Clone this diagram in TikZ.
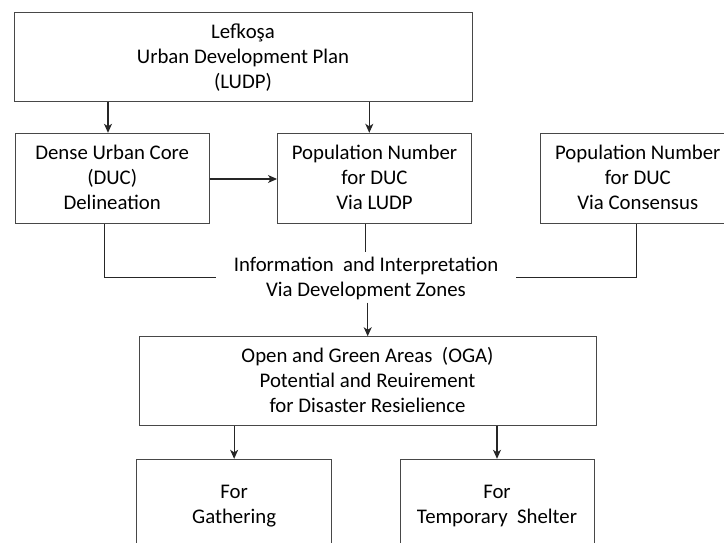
\documentclass[tikz,border=0pt]{standalone}
\usepackage{fontspec}
\setmainfont{Carlito}
\usetikzlibrary{arrows.meta,calc}
\newcommand\sq{\rule[-5.9pt]{0pt}{25pt}}
\begin{document}
\begin{tikzpicture}[x=1pt,y=-1pt,
  txt/.style={align=center, inner sep=0pt, font=\fontsize{20.8}{25}\selectfont},
  box/.style={txt, draw=black!72, line width=1pt, minimum width=194pt, minimum height=90pt},
  wide/.style={box, minimum width=457pt, minimum height=89pt},
  arr/.style={draw=black!85, line width=1.1pt, -{Stealth[length=9pt,width=8pt,inset=2.5pt]}},
  conn/.style={draw=black!85, line width=1.1pt}]
\useasboundingbox (0,0) rectangle (724,543);
\node[wide, minimum width=458pt] (top) at (243,56.75) {\sq Lefkoşa\\ \sq Urban Development Plan\\ \sq (LUDP)};
\node[box] (duc) at (112.2,178.3) {\sq Dense Urban Core\\ \sq (DUC)\\ \sq Delineation};
\node[box] (ludp) at (374.5,178.3) {\sq Population Number\\ \sq for DUC\\ \sq Via LUDP};
\node[box] (cons) at (637.8,178.3) {\sq Population Number\\ \sq for DUC\\ \sq Via Consensus};
\node[txt, inner xsep=18pt] (info) at (366,277.5) {\sq Information~ and Interpretation\\ \sq Via Development Zones};
\node[wide] (oga) at (367.5,381.25) {\sq Open and Green Areas~ (OGA)\\ \sq Potential and Reuirement\\ \sq for Disaster Resielience};
\node[box, minimum width=195pt] (gath) at (234.15,504.3) {\sq For\\ \sq Gathering};
\node[box] (temp) at (497,504.3) {\sq For\\ \sq Temporary~ Shelter};
\draw[arr] (top.south -| 108,0) -- (duc.north -| 108,0);
\draw[arr] (top.south -| 369.3,0) -- (ludp.north -| 369.3,0);
\draw[arr] (duc.east |- 0,179) -- (ludp.west |- 0,179);
\draw[conn] (duc.south -| 104.7,0) |- (info.west);
\draw[conn] (cons.south -| 636.5,0) |- (info.east);
\draw[conn] (ludp.south -| 365.7,0) -- (info.north -| 365.7,0);
\draw[arr] (info.south -| 367.7,0) -- (oga.north -| 367.7,0);
\draw[arr] (oga.south -| gath.north) -- (gath.north);
\draw[arr] (oga.south -| temp.north) -- (temp.north);
\end{tikzpicture}
\end{document}
